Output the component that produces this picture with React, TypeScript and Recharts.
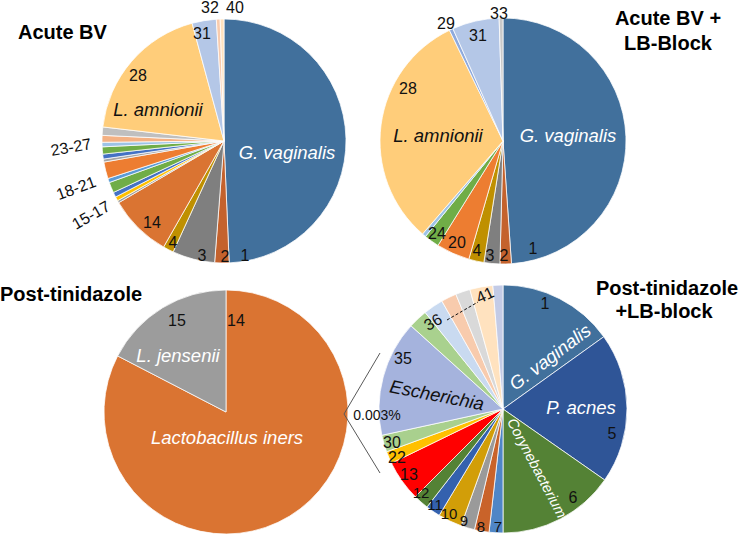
import { PieChart, Pie, Cell } from "recharts";

const FONT = '"Liberation Sans", Arial, Helvetica, sans-serif';

// taxon number -> colour, the numbering is shared across the four panels
const taxonColors: Record<string, string> = {
  "1": "#41709C",
  "2": "#C4622D",
  "3": "#7F7F7F",
  "4": "#BF9000",
  "5": "#2F5597",
  "6": "#548235",
  "7": "#4F86C6",
  "8": "#C9632A",
  "9": "#9A9A9A",
  "10": "#D29E08",
  "11": "#3461AE",
  "12": "#548235",
  "13": "#FF0000",
  "14": "#DA7432",
  "15": "#9C9C9C",
  "16": "#FFC000",
  "17": "#4472C4",
  "18": "#70AD47",
  "19": "#5B9BD5",
  "20": "#ED7D31",
  "21": "#A5A5A5",
  "22": "#FFC000",
  "23": "#4472C4",
  "24": "#70AD47",
  "25": "#9DC3E6",
  "26": "#F4B183",
  "27": "#BFBFBF",
  "28": "#FFCD7A",
  "29": "#8FAADC",
  "30": "#A9D08E",
  "31": "#B4C7E7",
  "32": "#F8CBAD",
  "33": "#C9C9C9",
  "35": "#A5B3DD",
  "36": "#A9D18E",
  "37": "#C9DAF0",
  "38": "#F8CBAD",
  "39": "#D9D9D9",
  "40": "#FFE2BF",
  "41": "#C3CBE6",
};

// Acute BV
const acuteBvTaxa = ["1", "2", "3", "4", "14", "15", "16", "17", "18", "19", "20", "21", "23", "24", "25", "26", "27", "28", "31", "32", "40"];
const acuteBvShare = [49.2, 1.9, 5.6, 1.4, 8.3, 0.3, 0.55, 0.65, 1.4, 0.55, 2.2, 0.4, 0.65, 0.95, 0.6, 0.9, 1.1, 18.9, 3.2, 0.5, 0.5];

// Acute BV + LB-Block
const acuteLbTaxa = ["1", "2", "3", "4", "20", "24", "25", "28", "29", "31", "33"];
const acuteLbShare = [49.1, 1.5, 2.1, 2.0, 4.4, 2.0, 0.5, 31.6, 0.5, 6.2, 0.5];

// Post-tinidazole
const postTaxa = ["14", "15"];
const postShare = [82.6, 17.4];

// Post-tinidazole + LB-block
const postLbTaxa = ["1", "5", "6", "7", "8", "9", "10", "11", "12", "13", "22", "30", "35", "36", "37", "38", "39", "40", "41"];
const postLbShare = [15.1, 19.6, 15.3, 1.8, 1.9, 1.8, 3.1, 1.9, 2.0, 5.3, 1.6, 2.2, 15.1, 2.5, 2.6, 2.0, 1.9, 3.0, 1.3];

const rows = (names: string[], vals: number[]) => names.map((name, i) => ({ name, value: vals[i] }));

type Tag = {
  slice: string;
  text: string;
  dx: number;
  dy: number;
  kind?: "num" | "white" | "ital";
  rotate?: number;
  size?: number;
};

// label placement, offsets from the pie centre
const acuteBvTags: Tag[] = [
  { slice: "1", text: "G. vaginalis", dx: 63, dy: 11, kind: "white" },
  { slice: "1", text: "1", dx: 21, dy: 114 },
  { slice: "2", text: "2", dx: 1, dy: 115 },
  { slice: "3", text: "3", dx: -22, dy: 114 },
  { slice: "4", text: "4", dx: -51, dy: 101 },
  { slice: "14", text: "14", dx: -72, dy: 81 },
  { slice: "16", text: "15-17", dx: -133, dy: 74, rotate: -30 },
  { slice: "19", text: "18-21", dx: -148, dy: 47, rotate: -20 },
  { slice: "25", text: "23-27", dx: -153, dy: 6, rotate: -10 },
  { slice: "28", text: "28", dx: -86, dy: -66 },
  { slice: "28", text: "L. amnionii", dx: -66, dy: -32, kind: "ital" },
  { slice: "31", text: "31", dx: -22, dy: -108 },
  { slice: "32", text: "32", dx: -14, dy: -134 },
  { slice: "40", text: "40", dx: 11, dy: -134 },
];

const acuteLbTags: Tag[] = [
  { slice: "1", text: "G. vaginalis", dx: 65, dy: -6, kind: "white" },
  { slice: "1", text: "1", dx: 30, dy: 107 },
  { slice: "2", text: "2", dx: 1, dy: 114 },
  { slice: "3", text: "3", dx: -13, dy: 114 },
  { slice: "4", text: "4", dx: -26, dy: 109 },
  { slice: "20", text: "20", dx: -46, dy: 101 },
  { slice: "24", text: "24", dx: -66, dy: 92 },
  { slice: "28", text: "L. amnionii", dx: -65, dy: -6, kind: "ital" },
  { slice: "28", text: "28", dx: -95, dy: -53 },
  { slice: "29", text: "29", dx: -57, dy: -118 },
  { slice: "31", text: "31", dx: -25, dy: -106 },
  { slice: "33", text: "33", dx: -4, dy: -128 },
];

const postTags: Tag[] = [
  { slice: "15", text: "15", dx: -49, dy: -92 },
  { slice: "14", text: "14", dx: 10, dy: -92 },
  { slice: "15", text: "L. jensenii", dx: -48, dy: -57, kind: "white" },
  { slice: "14", text: "Lactobacillus iners", dx: 1, dy: 25, kind: "white" },
];

const postLbTags: Tag[] = [
  { slice: "1", text: "1", dx: 42, dy: -106 },
  { slice: "1", text: "G. vaginalis", dx: 47, dy: -52, kind: "white", rotate: -37 },
  { slice: "5", text: "P. acnes", dx: 78, dy: -2, kind: "white" },
  { slice: "5", text: "5", dx: 109, dy: 24 },
  { slice: "6", text: "Corynebacterium", dx: 34, dy: 59, kind: "white", rotate: 62, size: 14.5 },
  { slice: "6", text: "6", dx: 70, dy: 88 },
  { slice: "7", text: "7", dx: -5, dy: 117, size: 15 },
  { slice: "8", text: "8", dx: -22, dy: 117, size: 15 },
  { slice: "9", text: "9", dx: -39, dy: 111, size: 15 },
  { slice: "10", text: "10", dx: -54, dy: 104, size: 15 },
  { slice: "11", text: "11", dx: -68, dy: 95, size: 15 },
  { slice: "12", text: "12", dx: -82, dy: 83, size: 15 },
  { slice: "13", text: "13", dx: -94, dy: 65 },
  { slice: "22", text: "22", dx: -106, dy: 48 },
  { slice: "30", text: "30", dx: -111, dy: 33 },
  { slice: "35", text: "Escherichia", dx: -66, dy: -14, kind: "ital", rotate: 11 },
  { slice: "35", text: "35", dx: -100, dy: -51 },
  { slice: "36", text: "36", dx: -70, dy: -87, rotate: -30 },
  { slice: "41", text: "41", dx: -18, dy: -114, rotate: -25 },
];

function tagRenderer(tags: Tag[]) {
  return (p: any) => {
    const key = String(p.name ?? p.payload?.name);
    const hits = tags.filter((t) => t.slice === key);
    if (!hits.length) return <g />;
    return (
      <g>
        {hits.map((t, i) => {
          const x = p.cx + t.dx;
          const y = p.cy + t.dy;
          const kind = t.kind ?? "num";
          return (
            <text
              key={i}
              x={x}
              y={y}
              textAnchor="middle"
              dominantBaseline="central"
              transform={t.rotate ? `rotate(${t.rotate} ${x} ${y})` : undefined}
              fontFamily={FONT}
              fontSize={t.size ?? (kind === "num" ? 16 : 18.5)}
              fontStyle={kind === "num" ? "normal" : "italic"}
              fill={kind === "white" ? "#ffffff" : "#111111"}
              stroke="none"
            >
              {t.text}
            </text>
          );
        })}
      </g>
    );
  };
}

const panels = [
  { id: "acute", names: acuteBvTaxa, vals: acuteBvShare, tags: acuteBvTags, cx: 224, cy: 141, r: 122 },
  { id: "acuteLb", names: acuteLbTaxa, vals: acuteLbShare, tags: acuteLbTags, cx: 503, cy: 141, r: 123 },
  { id: "post", names: postTaxa, vals: postShare, tags: postTags, cx: 226, cy: 412, r: 122 },
  { id: "postLb", names: postLbTaxa, vals: postLbShare, tags: postLbTags, cx: 503, cy: 409, r: 124 },
];

const titleStyle = { fontFamily: FONT, fontSize: 20, fontWeight: 700, fill: "#000" } as const;

export default function App() {
  return (
    <div style={{ position: "absolute", left: 0, top: 0, width: 742, height: 535, background: "#fff" }}>
      <PieChart width={742} height={535} margin={{ top: 0, right: 0, bottom: 0, left: 0 }}>
        {panels.map((pn) => (
          <Pie
            key={pn.id}
            data={rows(pn.names, pn.vals)}
            dataKey="value"
            nameKey="name"
            cx={pn.cx}
            cy={pn.cy}
            outerRadius={pn.r}
            startAngle={90}
            endAngle={-270}
            stroke="#ffffff"
            strokeWidth={0.75}
            isAnimationActive={false}
            labelLine={false}
            label={tagRenderer(pn.tags)}
          >
            {pn.names.map((n) => (
              <Cell key={n} fill={taxonColors[n]} />
            ))}
          </Pie>
        ))}
      </PieChart>
      <svg
        width={742}
        height={535}
        style={{ position: "absolute", left: 0, top: 0, pointerEvents: "none" }}
      >
        <text x={18} y={39} {...titleStyle}>Acute BV</text>
        <text x={668} y={25} textAnchor="middle" {...titleStyle}>Acute BV +</text>
        <text x={668} y={50} textAnchor="middle" {...titleStyle}>LB-Block</text>
        <text x={0} y={301} {...titleStyle}>Post-tinidazole</text>
        <text x={667} y={295} textAnchor="middle" {...titleStyle}>Post-tinidazole</text>
        <text x={664} y={318} textAnchor="middle" {...titleStyle}>+LB-block</text>
        {/* zoom-in callout from the tiny remainder of Post-tinidazole */}
        <polyline points="380,353 344,414 380,473" fill="none" stroke="#595959" strokeWidth={1} />
        <text x={377} y={415} textAnchor="middle" dominantBaseline="central" fontFamily={FONT} fontSize={14} fill="#111">
          0.003%
        </text>
        {/* 36 to 41 range marker */}
        <line x1={447} y1={320} x2={478} y2={302} stroke="#111" strokeWidth={1} strokeDasharray="3 2" />
      </svg>
    </div>
  );
}
